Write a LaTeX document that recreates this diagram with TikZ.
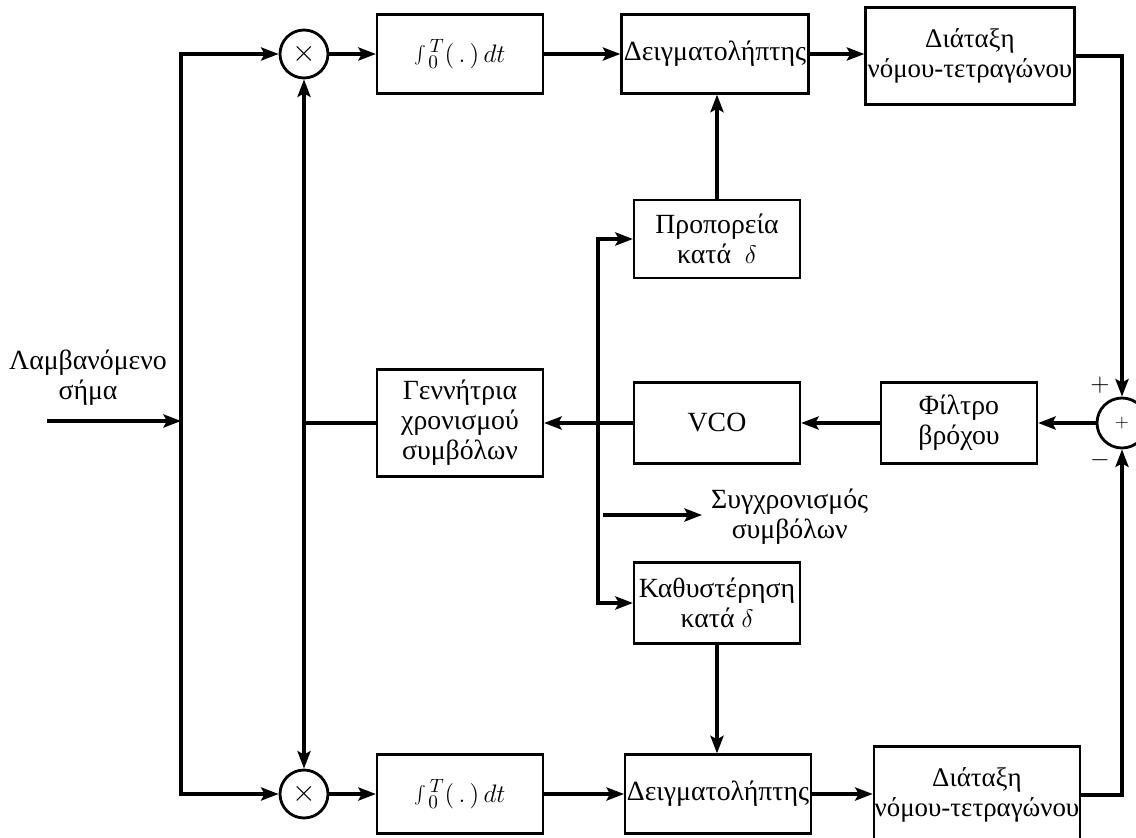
\documentclass[tikz,border=0pt]{standalone}
\usepackage{fontspec}
\setmainfont{Liberation Serif}
\usetikzlibrary{positioning,calc,arrows.meta}
\tikzset{
blk/.style={draw=black,line width=1.3pt,minimum width=3.32cm,minimum height=1.58cm,inner sep=1pt,align=center},
mixer/.style={circle,draw=black,line width=1.6pt,minimum size=0.96cm,inner sep=0pt,font=\LARGE},
sig/.style={line width=1.8pt},
sigarrow/.style={sig,-{Stealth[length=10pt,width=7.5pt,inset=2pt]}},
note/.style={align=center}
}
\begin{document}
\begin{tikzpicture}[x=0.02cm,y=-0.02cm,every node/.style={font=\fontsize{15.8}{17}\selectfont}]
\useasboundingbox (0,0) rectangle (1136,838);
\node[mixer] (mulA) at (304,54) {$\times$};
\node[mixer] (mulB) at (304,794) {$\times$};
\node[blk] (intA) at (460,54) {$\int_{\hspace{3pt}0}^{\hspace{2pt}T}(\,.\,)\,dt$};
\node[blk] (intB) at (460,794) {$\int_{\hspace{3pt}0}^{\hspace{2pt}T}(\,.\,)\,dt$};
\node[blk,minimum width=3.74cm] (smpA) at (715,54) {Δειγματολήπτης};
\node[blk,minimum width=3.62cm] (smpB) at (718,794) {Δειγματολήπτης};
\node[blk,minimum width=4.18cm,minimum height=1.94cm,inner sep=0.5pt,font=\fontsize{15.3}{17}\selectfont] (sqA) at (970,56) {Διάταξη\\νόμου-τετραγώνου};
\node[blk,minimum width=4.12cm,minimum height=1.94cm,inner sep=0.5pt,font=\fontsize{15.3}{17}\selectfont] (sqB) at (977,795) {Διάταξη\\νόμου-τετραγώνου};
\node[mixer,minimum size=1cm,font=\normalsize] (sum) at (1122,423) {$+$};
\node[blk,minimum width=3.12cm,minimum height=1.62cm] (filt) at (959,423) {Φίλτρο\\βρόχου};
\node[blk,minimum height=1.62cm] (vco) at (717,423) {VCO};
\node[blk,minimum height=2.14cm] (gen) at (460,423) {Γεννήτρια\\χρονισμού\\συμβόλων};
\node[blk,minimum height=1.56cm] (lead) at (717,239) {Προπορεία\\κατά \ $\delta$};
\node[blk,minimum height=1.62cm] (lag) at (717,603) {Καθυστέρηση\\κατά $\delta$};
\node[note] (rxlbl) at (88,378) {Λαμβανόμενο\\σήμα};
\node[note,anchor=west] (synclbl) at (705,517) {Συγχρονισμός\\συμβόλων};
\node (plus) at (1100,385) {$+$};
\node (minus) at (1100,460) {$-$};
\coordinate (rx) at (47,421);
\coordinate (split) at (181,421);
\coordinate (tap) at (mulA.south |- gen.west);
\coordinate (clk) at (598,423);
\coordinate (syncA) at (603,515);
\coordinate (syncB) at (702,515);
\draw[sigarrow] (rx) -- (split);
\draw[sigarrow] (split) |- (mulA);
\draw[sigarrow] (split) |- (mulB);
\draw[sig] (gen) -- (tap);
\draw[sigarrow] (tap) -- (mulA);
\draw[sigarrow] (tap) -- (mulB);
\draw[sigarrow] (mulA) -- (intA);
\draw[sigarrow] (intA) -- (smpA);
\draw[sigarrow] (smpA.east) -- (sqA.west |- smpA.east);
\draw[sigarrow] (mulB) -- (intB);
\draw[sigarrow] (intB) -- (smpB);
\draw[sigarrow] (smpB.east) -- (sqB.west |- smpB.east);
\draw[sigarrow] (sqA.east) -| (sum.north);
\draw[sigarrow] (sqB.east) -| (sum.south);
\draw[sigarrow] (sum) -- (filt);
\draw[sigarrow] (filt) -- (vco);
\draw[sigarrow] (vco) -- (gen);
\draw[sigarrow] (clk) |- (lead.west);
\draw[sigarrow] (clk) |- (lag.west);
\draw[sigarrow] (lead.north) -- (lead.north |- smpA.south);
\draw[sigarrow] (lag.south) -- (lag.south |- smpB.north);
\draw[sigarrow] (syncA) -- (syncB);
\end{tikzpicture}
\end{document}
